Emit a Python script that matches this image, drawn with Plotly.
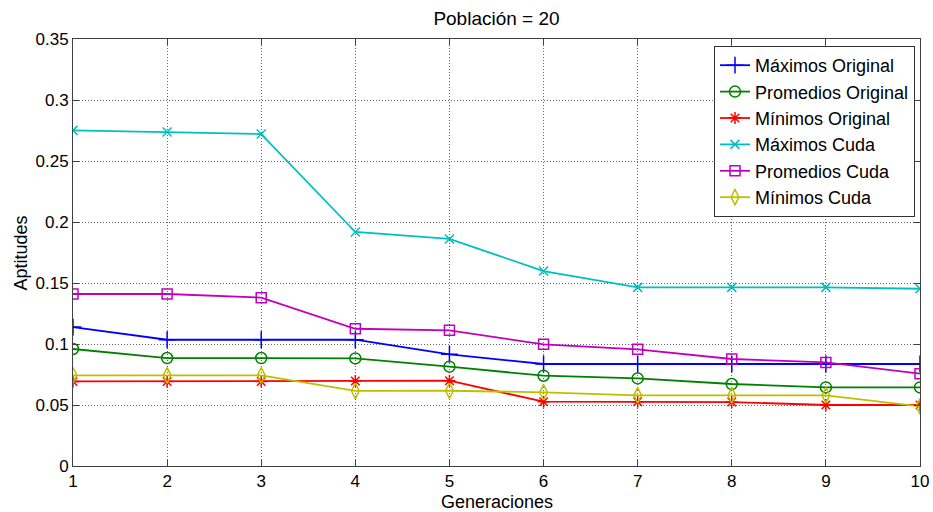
import plotly.graph_objects as go

generaciones = [1, 2, 3, 4, 5, 6, 7, 8, 9, 10]
maximos_original = [0.1139, 0.1035, 0.1035, 0.1035, 0.0915, 0.0836, 0.0836, 0.0836, 0.0836, 0.0836]
promedios_original = [0.0959, 0.0885, 0.0885, 0.0882, 0.0814, 0.0740, 0.0718, 0.0672, 0.0644, 0.0644]
minimos_original = [0.0693, 0.0693, 0.0693, 0.0697, 0.0699, 0.0527, 0.0527, 0.0524, 0.0500, 0.0500]
maximos_cuda = [0.2751, 0.2738, 0.2721, 0.1918, 0.1861, 0.1598, 0.1464, 0.1464, 0.1464, 0.1453]
promedios_cuda = [0.1410, 0.1410, 0.1380, 0.1125, 0.1112, 0.0997, 0.0956, 0.0877, 0.0849, 0.0757]
minimos_cuda = [0.0743, 0.0743, 0.0743, 0.0615, 0.0617, 0.0604, 0.0579, 0.0579, 0.0579, 0.0489]

y_ticks = [0, 0.05, 0.1, 0.15, 0.2, 0.25, 0.3, 0.35]
y_tick_labels = ["0", "0.05", "0.1", "0.15", "0.2", "0.25", "0.3", "0.35"]

series = [
    ("Máximos Original", maximos_original, "#0000FF", "cross-thin-open", 12),
    ("Promedios Original", promedios_original, "#008000", "circle-open", 11),
    ("Mínimos Original", minimos_original, "#FF0000", "asterisk-open", 10),
    ("Máximos Cuda", maximos_cuda, "#00BFBF", "x-thin-open", 9),
    ("Promedios Cuda", promedios_cuda, "#BF00BF", "square-open", 10),
    ("Mínimos Cuda", minimos_cuda, "#BFBF00", "diamond-tall-open", 11),
]

fig = go.Figure()
for name, vals, color, sym, sz in series:
    fig.add_trace(go.Scatter(
        x=generaciones, y=vals, name=name, mode="lines+markers",
        line=dict(color=color, width=1.8),
        marker=dict(symbol=sym, size=sz, color=color, line=dict(color=color, width=1.5)),
    ))

W, H = 933, 512
L, R, T, B = 73, 13, 39, 46
plot_w, plot_h = W - L - R, H - T - B

font_family = "Arial, Liberation Sans, sans-serif"
fig.update_layout(
    width=W, height=H,
    margin=dict(l=L, r=R, t=T, b=B, autoexpand=False),
    paper_bgcolor="white", plot_bgcolor="white",
    font=dict(family=font_family, size=17, color="black"),
    title=dict(text="Población = 20", x=0.5, xref="paper", xanchor="center",
               y=1 - 18 / H, yanchor="middle", font=dict(size=19)),
    showlegend=True,
    legend=dict(x=(915 - L) / plot_w, y=(H - B - 46) / plot_h, xanchor="right", yanchor="top",
                bgcolor="white", bordercolor="#333", borderwidth=1,
                font=dict(size=18), tracegroupgap=0, itemwidth=30),
    annotations=[
        dict(text="Generaciones", xref="paper", yref="paper", x=0.5,
             y=-(502 - (H - B)) / plot_h, xanchor="center", yanchor="middle",
             showarrow=False, font=dict(size=18)),
        dict(text="Aptitudes", xref="paper", yref="paper", x=(20 - L) / plot_w,
             y=0.5, xanchor="center", yanchor="middle", textangle=-90,
             showarrow=False, font=dict(size=18)),
    ],
)
fig.update_xaxes(
    range=[1, 10], tickvals=generaciones, ticktext=[str(g) for g in generaciones],
    showline=True, linecolor="#404040", linewidth=1, mirror="ticks",
    ticks="inside", ticklen=6, tickcolor="#404040",
    showgrid=True, gridcolor="#666", griddash="1px,2px", gridwidth=1,
    zeroline=False, automargin=False,
)
fig.update_yaxes(
    range=[0, 0.35], tickvals=y_ticks, ticktext=y_tick_labels,
    showline=True, linecolor="#404040", linewidth=1, mirror="ticks",
    ticks="inside", ticklen=6, tickcolor="#404040",
    showgrid=True, gridcolor="#666", griddash="1px,2px", gridwidth=1,
    zeroline=False, automargin=False,
)

fig.write_html("out.html", config={"displayModeBar": False},
               post_script="document.body.style.margin='0';")
